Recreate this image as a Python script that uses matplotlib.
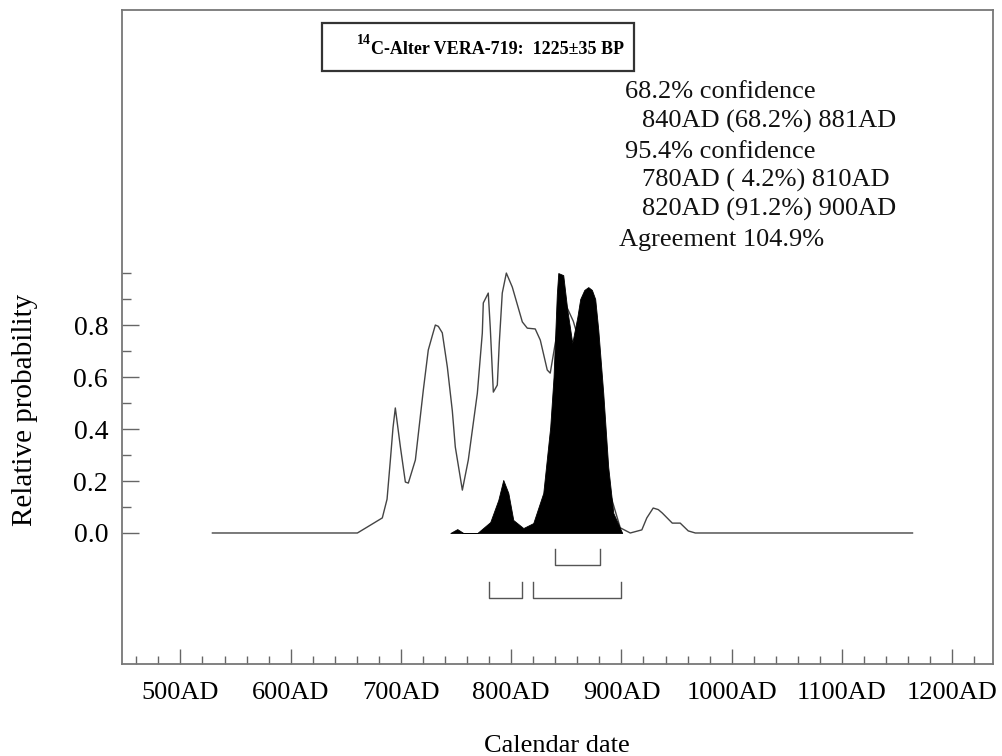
import matplotlib
matplotlib.use("Agg")
import matplotlib.pyplot as plt
from matplotlib.patches import Rectangle
from matplotlib.ticker import FixedLocator

plt.rcParams['font.family'] = ['Liberation Serif', 'DejaVu Serif']

# ---- data ----
prior_year = [529, 660.5, 669.5, 683.1, 687.4, 690.4, 692.8, 694.9, 699.5, 704.0, 706.7,
              713.1, 720.3, 724.8, 728.5, 731.2, 733.9, 737.5, 742.1, 746.6, 749.3, 755.7,
              761.1, 769.3, 773.8, 774.7, 779.2, 781.0, 783.8, 787.4, 789.2, 791.9, 795.6,
              801.0, 810.1, 814.6, 821.8, 826.4, 832.7, 835.4, 840.0, 845.4, 850.9, 856.3,
              860.8, 871.7, 880.8, 889.8, 898.9, 908.0, 918.5, 923.0, 928.8, 933.4,
              937.0, 946.1, 953.3, 960.6, 967.0, 1164]
prior_prob = [0, 0, 0.023, 0.058, 0.13, 0.28, 0.405, 0.481, 0.331, 0.196, 0.192,
              0.281, 0.550, 0.704, 0.76, 0.800, 0.795, 0.77, 0.638, 0.47, 0.331, 0.165,
              0.281, 0.538, 0.769, 0.885, 0.923, 0.792, 0.542, 0.569, 0.731, 0.923, 1.0,
              0.946, 0.812, 0.788, 0.785, 0.742, 0.627, 0.615, 0.731, 0.85, 0.865, 0.815,
              0.75, 0.6, 0.4, 0.15, 0.02, 0, 0.012, 0.058, 0.096, 0.09,
              0.077, 0.038, 0.038, 0.008, 0, 0]

post_year = [744.8, 751.1, 756.6, 769.3, 781.0, 788.3, 792.8, 797.4, 801.9, 811.0,
             820.0, 829.1, 835.4, 838.4, 841.4, 842.7, 847.2, 850.9, 855.4, 860.0, 862.6,
             866.3, 869.9, 873.2, 876.2, 879.0, 883.5, 888.0, 892.6, 900.7]
post_prob = [0, 0.015, 0, 0, 0.042, 0.127, 0.204, 0.154, 0.05, 0.019,
             0.038, 0.154, 0.408, 0.6, 0.92, 1.0, 0.992, 0.858, 0.731, 0.831, 0.9,
             0.935, 0.946, 0.935, 0.9, 0.781, 0.538, 0.254, 0.077, 0]

range68 = [(840, 881)]
range95 = [(780, 810), (820, 900)]

title_sup = "14"
title_main = "C-Alter VERA-719:  1225±35 BP"
info_lines = ["68.2% confidence",
              "840AD (68.2%) 881AD",
              "95.4% confidence",
              "780AD ( 4.2%) 810AD",
              "820AD (91.2%) 900AD",
              "Agreement 104.9%"]

xticks_major = [500, 600, 700, 800, 900, 1000, 1100, 1200]
xtick_labels = ["500AD", "600AD", "700AD", "800AD", "900AD", "1000AD", "1100AD", "1200AD"]
yticks_major = [0.0, 0.2, 0.4, 0.6, 0.8]
ytick_labels = ["0.0", "0.2", "0.4", "0.6", "0.8"]

# ---- figure ----
W, H = 1002, 756
fig = plt.figure(figsize=(W / 100, H / 100), dpi=100)
L, R, T, B = 122, 993, 10, 664
ax = fig.add_axes([L / W, 1 - B / H, (R - L) / W, (B - T) / H])
ax.set_xlim(447, 1237)
ax.set_ylim(-0.504, 2.012)

ax.fill_between(post_year, post_prob, 0, color='black', linewidth=0.6, zorder=3)
ax.plot(prior_year, prior_prob, color='#444444', linewidth=1.0, zorder=2)

for lo, hi in range68:
    ax.plot([lo, lo, hi, hi], [-0.062, -0.123, -0.123, -0.062], color='#555555', lw=1.0)
for lo, hi in range95:
    ax.plot([lo, lo, hi, hi], [-0.188, -0.25, -0.25, -0.188], color='#555555', lw=1.0)

spine_col = '#777777'
for s in ax.spines.values():
    s.set_color(spine_col)
    s.set_linewidth(1.3)

ax.xaxis.set_major_locator(FixedLocator(xticks_major))
ax.set_xticklabels(xtick_labels)
ax.xaxis.set_minor_locator(FixedLocator([y for y in range(460, 1237, 20) if y % 100 != 0]))
ax.yaxis.set_major_locator(FixedLocator(yticks_major))
ax.set_yticklabels(ytick_labels)
ax.yaxis.set_minor_locator(FixedLocator([0.1, 0.3, 0.5, 0.7, 0.9, 1.0]))

ax.tick_params(axis='x', which='major', direction='in', length=11, width=1, color='#666666',
               labelsize=19, pad=13, top=False)
ax.tick_params(axis='x', which='minor', direction='in', length=5.8, width=1, color='#666666', top=False)
ax.tick_params(axis='y', which='major', direction='in', length=12, width=1, color='#666666',
               labelsize=20, pad=10, right=False)
ax.tick_params(axis='y', which='minor', direction='in', length=6.5, width=1, color='#666666', right=False)

def fx(px):
    return px / W

def fy(py):
    return 1 - py / H

fig.text(fx(557), fy(746), "Calendar date", ha='center', va='center', fontsize=19)
fig.text(fx(25), fy(410), "Relative probability", ha='center', va='center', rotation=90, fontsize=21)

# title box
fig.patches.append(Rectangle((fx(322), fy(71)), (634 - 322) / W, (71 - 23) / H,
                             transform=fig.transFigure, fill=False, edgecolor='#333333', linewidth=1.6))
fig.text(fx(357), fy(44), title_sup, fontsize=10, fontweight='bold', va='baseline', ha='left')
fig.text(fx(371), fy(54), title_main, fontsize=13, fontweight='bold', va='baseline', ha='left')

info_x = [625, 642, 625, 642, 642, 619]
info_y = [98, 128, 158, 187, 216, 246]
for s, x, y in zip(info_lines, info_x, info_y):
    fig.text(fx(x), fy(y), s, fontsize=19, va='baseline', ha='left', color='#111111')

fig.savefig("out.png", dpi=100)
